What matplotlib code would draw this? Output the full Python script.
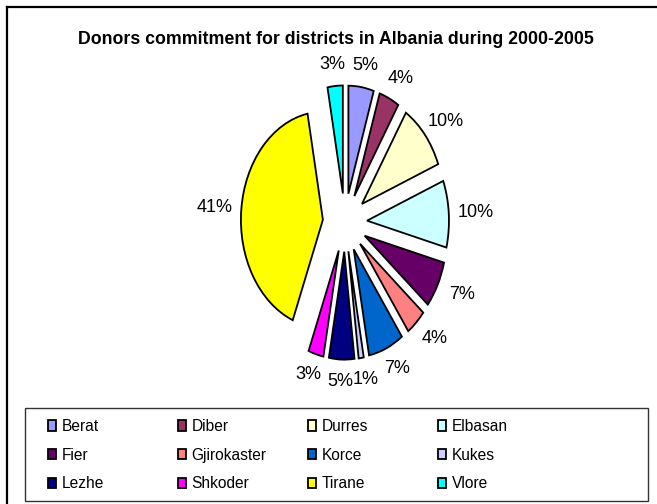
import matplotlib
matplotlib.use("Agg")
import matplotlib.pyplot as plt
import numpy as np
from matplotlib.patches import Rectangle
from matplotlib.lines import Line2D

# donors commitment per district, % of total 2000-2005
districts = ["Berat", "Diber", "Durres", "Elbasan", "Fier", "Gjirokaster",
             "Korce", "Kukes", "Lezhe", "Shkoder", "Tirane", "Vlore"]
shares = [5, 4, 10, 10, 7, 4, 7, 1, 5, 3, 41, 3]
colors = ["#9999FF", "#993366", "#FFFFCC", "#CCFFFF", "#660066", "#FF8080",
          "#0066CC", "#CCCCFF", "#000080", "#FF00FF", "#FFFF00", "#00FFFF"]

plt.rcParams['font.family'] = ['Liberation Sans', 'DejaVu Sans']

W, H = 657, 504
fig = plt.figure(figsize=(W / 100, H / 100), dpi=100)

explode = 0.27
# pie axes, stretched so the pie comes out as a tall ellipse
ax = fig.add_axes([0.2755, 0.13, 0.499, 0.857])
wedges, texts, autotexts = ax.pie(
    shares, colors=colors, startangle=90, counterclock=False,
    explode=[explode] * len(shares), radius=1.0,
    autopct='%1.0f%%', pctdistance=1.28,
    wedgeprops=dict(edgecolor='black', linewidth=1.3),
    textprops=dict(fontsize=13))
ax.set_aspect('auto')
ax.set_xlim(-2, 2)
ax.set_ylim(-2, 2)

# labels sit a bit further out sideways than up/down (like excel does it)
for w, t in zip(wedges, autotexts):
    mid = np.deg2rad((w.theta1 + w.theta2) / 2)
    t.set_position(((explode + 1.33) * np.cos(mid), (explode + 1.2) * np.sin(mid)))

fig.text(336 / W, 1 - 40 / H, "Donors commitment for districts in Albania during 2000-2005",
         ha='center', va='center', fontsize=12.8, fontweight='bold')

# outer chart border (only the top and left sides are visible in the image)
fig.add_artist(Line2D([7 / W, 7 / W], [0, 1 - 7 / H], color='black', lw=1.6))
fig.add_artist(Line2D([7 / W, 1], [1 - 7 / H, 1 - 7 / H], color='black', lw=1.6))

# legend box
fig.add_artist(Rectangle((25 / W, 3 / H), 623 / W, 93 / H, transform=fig.transFigure,
                         fill=False, edgecolor='#333333', lw=1.0))

# legend laid out row by row, one legend per column
col_x = [48, 178, 308, 438]
for c in range(4):
    fig.legend(wedges[c::4], districts[c::4], loc='upper left',
               bbox_to_anchor=(col_x[c] / W, 1 - 419 / H), frameon=False,
               fontsize=11.2, borderpad=0, borderaxespad=0,
               handlelength=0.52, handleheight=0.65, handletextpad=0.35,
               labelspacing=0.88)

fig.savefig("out.png", dpi=100)
